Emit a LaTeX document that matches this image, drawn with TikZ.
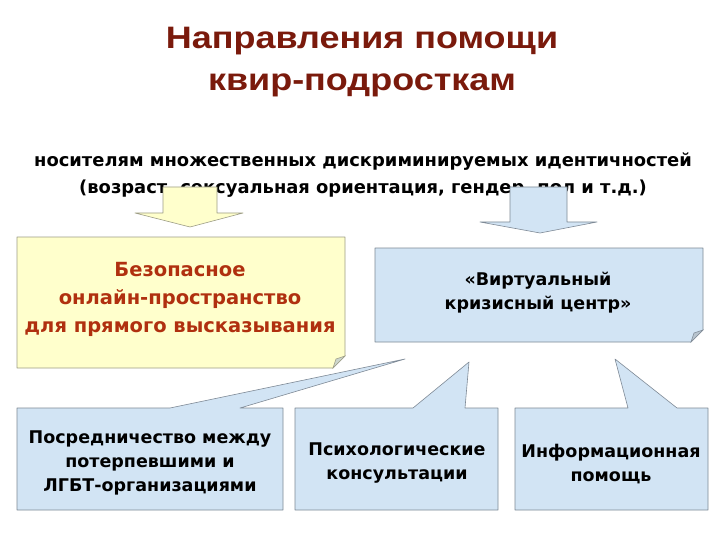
\documentclass[tikz,border=0pt]{standalone}
\usepackage{fontspec}
\setmainfont{DejaVu Sans}
\newfontfamily\titlefont[FakeStretch=1.16]{Liberation Sans}
\begin{document}
\begin{tikzpicture}[x=1pt,y=-1pt,
  blue box/.style={draw=boxline, fill=boxblue, line width=0.6pt, line join=round},
  yellow box/.style={draw=yelline, fill=boxyellow, line width=0.6pt, line join=round},
  fold/.style={draw=boxline, fill=foldgrey, line width=0.5pt},
  txt/.style={align=center, inner sep=0pt, font=\bfseries\fontsize{17.5}{24}\selectfont},
]
\definecolor{boxblue}{HTML}{D2E4F4}
\definecolor{boxline}{HTML}{7F8A96}
\definecolor{boxyellow}{HTML}{FFFFCC}
\definecolor{yelline}{HTML}{9C9C86}
\definecolor{foldgrey}{HTML}{B8C4CE}
\definecolor{titlered}{HTML}{7A1A0C}
\definecolor{brick}{HTML}{B0300F}
\useasboundingbox[fill=white] (0,0) rectangle (720,540);

% title
\node[font=\titlefont\bfseries\fontsize{31}{42}\selectfont, text=titlered, align=center] (title) at (362,62)
  {Направления помощи\\квир-подросткам};

% subtitle
\node[txt, font=\bfseries\fontsize{17.9}{27}\selectfont] (sub) at (363,175)
  {носителям множественных дискриминируемых идентичностей\\(возраст, сексуальная ориентация, гендер, пол и т.д.)};

% block arrows
\draw[yellow box] (163,187) -- (217,187) -- (217,213) -- (243,213) -- (190,227) -- (135,213) -- (163,213) -- cycle;
\draw[blue box] (510,187) -- (567,187) -- (567,222) -- (597,222) -- (540,233) -- (480,222) -- (510,222) -- cycle;

% upper boxes
\draw[yellow box] (17,237) -- (345,237) -- (345,356) -- (333,368) -- (17,368) -- cycle;
\draw[fold, draw=yelline, fill=foldgrey!70!boxyellow] (333,368) -- (345,356) -- (336,359) -- cycle;
\node[txt, text=brick, font=\bfseries\fontsize{19.5}{28}\selectfont] (safe) at (180,299) {Безопасное\\онлайн-пространство\\для прямого высказывания};

\draw[blue box] (375,248) -- (703,248) -- (703,330) -- (691,342) -- (375,342) -- cycle;
\draw[fold] (691,342) -- (703,330) -- (694,333) -- cycle;
\node[txt] (crisis) at (538,293) {«Виртуальный\\кризисный центр»};

% lower callout boxes
\draw[blue box] (17,408) -- (170,408) -- (405,359) -- (240,408) -- (283,408) -- (283,510) -- (17,510) -- cycle;
\node[txt] (med) at (150,463) {Посредничество между\\потерпевшими и\\ЛГБТ-организациями};

\draw[blue box] (295,408) -- (413,408) -- (469,362) -- (465,408) -- (498,408) -- (498,510) -- (295,510) -- cycle;
\node[txt] (psy) at (397,463) {Психологические\\консультации};

\draw[blue box] (515,408) -- (628,408) -- (615,359) -- (677,408) -- (708,408) -- (708,510) -- (515,510) -- cycle;
\node[txt] (info) at (611,464) {Информационная\\помощь};
\end{tikzpicture}
\end{document}
